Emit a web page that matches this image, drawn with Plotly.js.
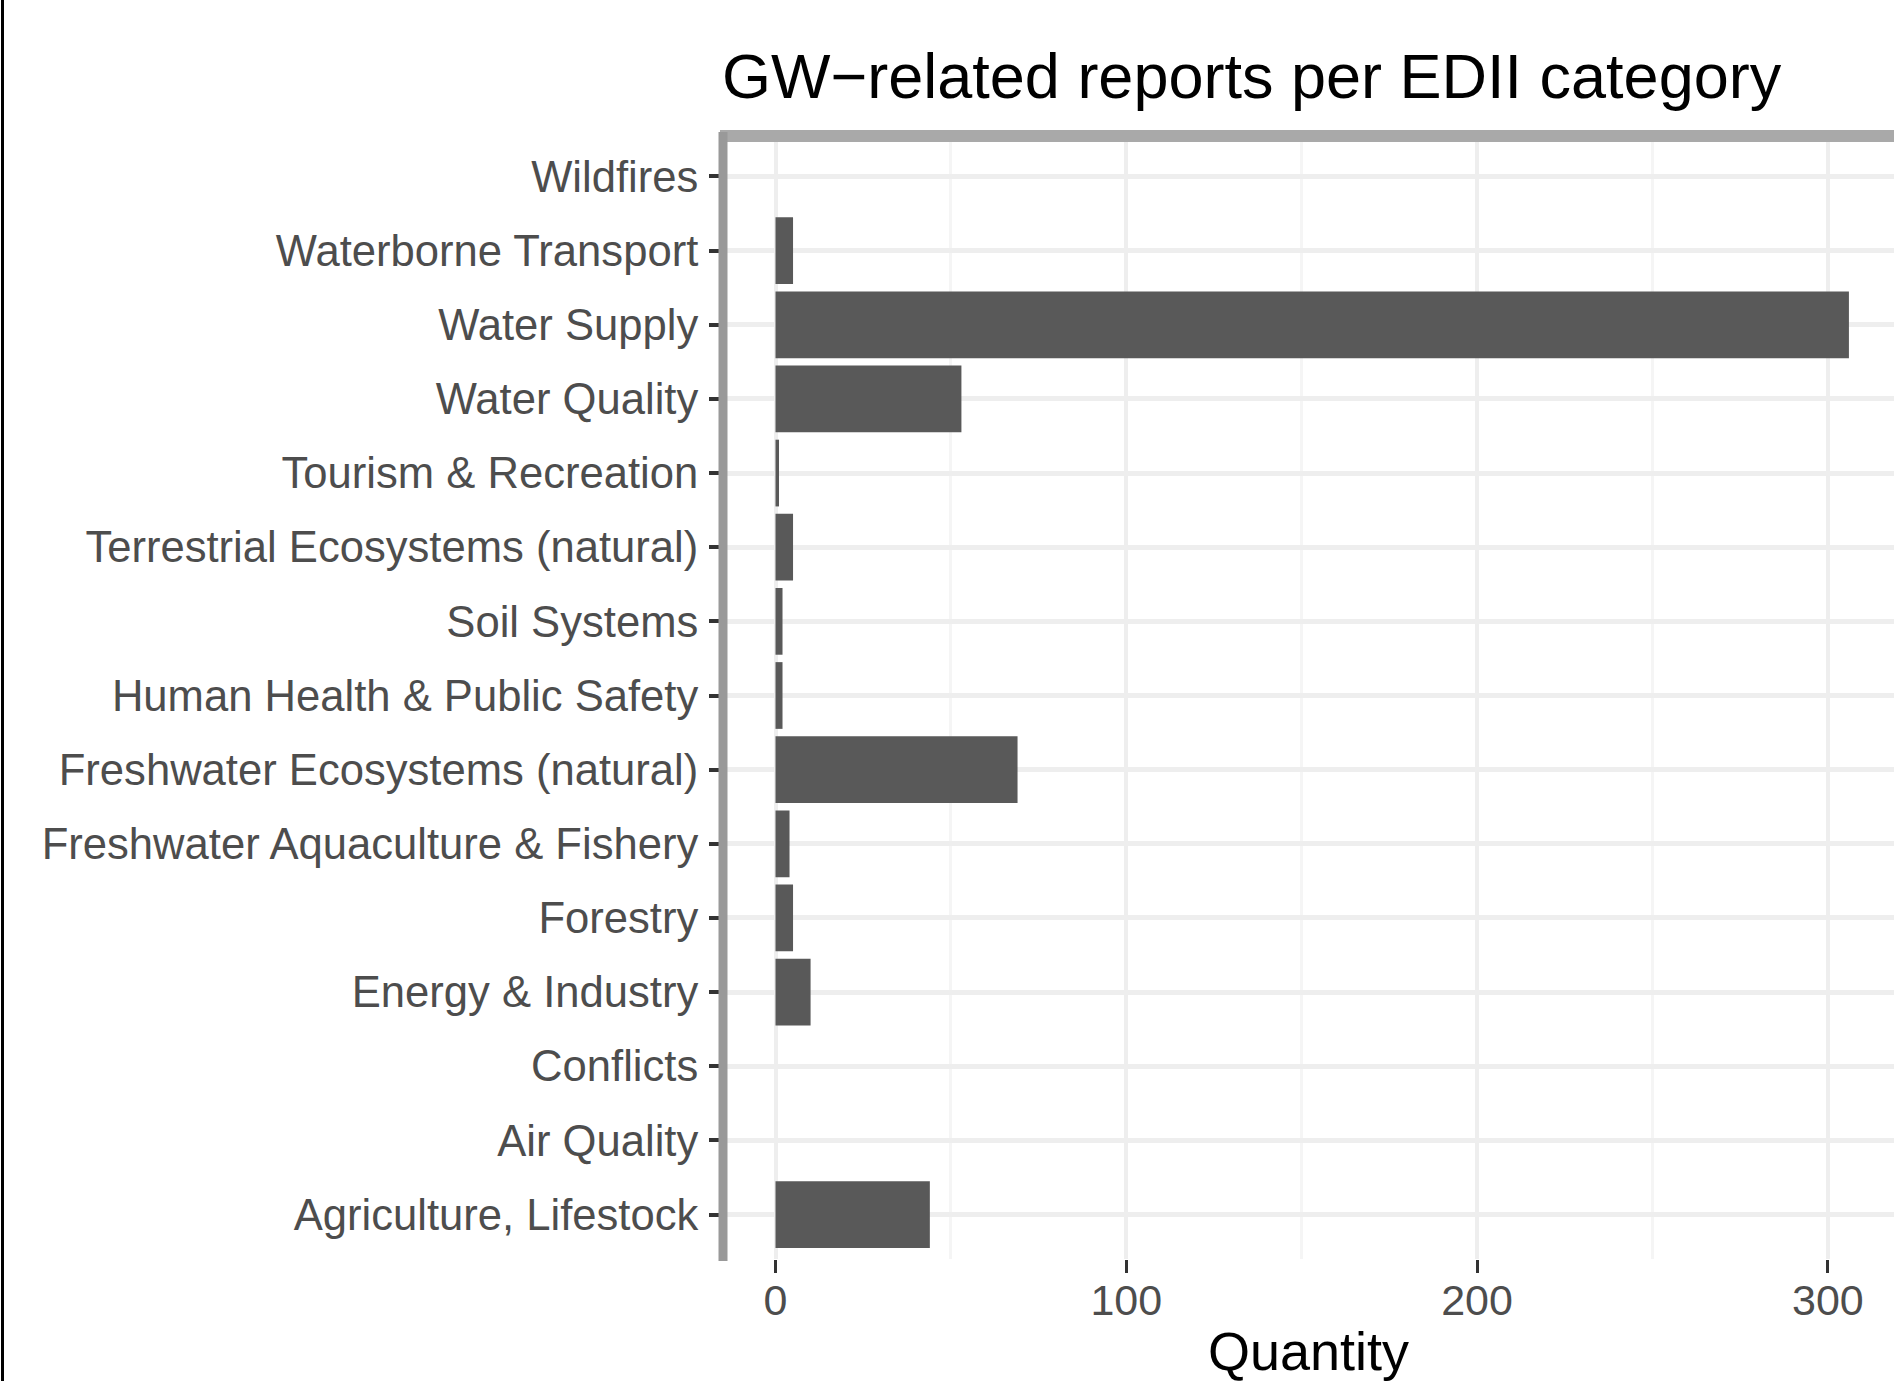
<!DOCTYPE html>
<html>
<head>
<meta charset="utf-8">
<script src="https://cdn.plot.ly/plotly-3.0.1.min.js"></script>
<style>
html, body { margin: 0; padding: 0; background: #fff; overflow: hidden; }
#chart { width: 1894px; height: 1381px; }
</style>
</head>
<body>
<div id="chart"></div>
<script>
// Categories (bottom to top as drawn)
const categories = [
  "Agriculture, Lifestock",
  "Air Quality",
  "Conflicts",
  "Energy & Industry",
  "Forestry",
  "Freshwater Aquaculture & Fishery",
  "Freshwater Ecosystems (natural)",
  "Human Health & Public Safety",
  "Soil Systems",
  "Terrestrial Ecosystems (natural)",
  "Tourism & Recreation",
  "Water Quality",
  "Water Supply",
  "Waterborne Transport",
  "Wildfires"
];
// Number of GW-related reports per category
const quantities = [44, 0, 0, 10, 5, 4, 69, 2, 2, 5, 1, 53, 306, 5, 0];
const xTickValues = [0, 100, 200, 300];
const xTickLabels = ["0", "100", "200", "300"];
const xAxisTitle = 'Quantity';

const FONT = '"Liberation Sans", Arial, Helvetica, sans-serif';

const trace = {
  type: 'bar',
  orientation: 'h',
  x: quantities,
  y: categories,
  marker: { color: '#595959', line: { width: 0 } },
  hoverinfo: 'x+y'
};

const layout = {
  width: 1894,
  height: 1381,
  margin: { l: 722, r: 0, t: 132, b: 122, pad: 0 },
  paper_bgcolor: '#ffffff',
  plot_bgcolor: '#ffffff',
  showlegend: false,
  bargap: 0.1,
  font: { family: FONT, color: '#000000' },
  title: {
    text: 'GW\u2212related reports per EDII category',
    font: { family: FONT, size: 63, color: '#000000' },
    xref: 'paper', x: 0, xanchor: 'left',
    yref: 'container', y: 1 - 76 / 1381, yanchor: 'middle'
  },
  xaxis: {
    range: [-15.25, 318.85],
    tickmode: 'array',
    tickvals: xTickValues,
    ticktext: xTickLabels,
    ticks: 'outside',
    ticklen: 13,
    tickwidth: 3,
    tickcolor: '#333333',
    tickfont: { family: FONT, size: 43, color: '#4D4D4D' },
    ticklabelstandoff: -10,
    showline: false,
    zeroline: false,
    showgrid: true,
    gridcolor: '#EEEEEE',
    gridwidth: 4,
    minor: { tickmode: 'array', tickvals: [50, 150, 250], showgrid: true, gridcolor: '#F5F5F5', gridwidth: 3, ticks: '' },
    fixedrange: true
  },
  yaxis: {
    type: 'category',
    categoryorder: 'array',
    categoryarray: categories,
    range: [-0.6, 14.6],
    ticks: 'outside',
    ticklen: 12,
    tickwidth: 4,
    tickcolor: '#333333',
    tickfont: { family: FONT, size: 43.6, color: '#4D4D4D' },
    ticklabelstandoff: 2,
    showline: false,
    zeroline: false,
    showgrid: true,
    gridcolor: '#EEEEEE',
    gridwidth: 5,
    automargin: false,
    fixedrange: true
  },
  annotations: [
    { text: xAxisTitle, xref: 'paper', yref: 'paper', x: 0.5, y: (1259 - 1319) / 1127,
      xanchor: 'center', yanchor: 'top', showarrow: false,
      font: { family: FONT, size: 54, color: '#000000' } }
  ],
  shapes: [
    // top panel line
    { type: 'line', xref: 'paper', yref: 'paper', x0: -2 / 1172, x1: 1, y0: (1259 - 136) / 1127, y1: (1259 - 136) / 1127,
      line: { color: '#A9A9A9', width: 12 }, layer: 'above' },
    // left axis line
    { type: 'line', xref: 'paper', yref: 'paper', x0: 1 / 1172, x1: 1 / 1172, y0: -2 / 1127, y1: 1,
      line: { color: '#999999', width: 9 }, layer: 'above' },
    // figure frame line at the far left
    { type: 'line', xref: 'paper', yref: 'paper', x0: (2.5 - 722) / 1172, x1: (2.5 - 722) / 1172,
      y0: (1259 - 1381) / 1127, y1: 1259 / 1127, line: { color: '#000000', width: 3 }, layer: 'above' }
  ]
};

Plotly.newPlot('chart', [trace], layout, { displayModeBar: false, staticPlot: true });
</script>
</body>
</html>
